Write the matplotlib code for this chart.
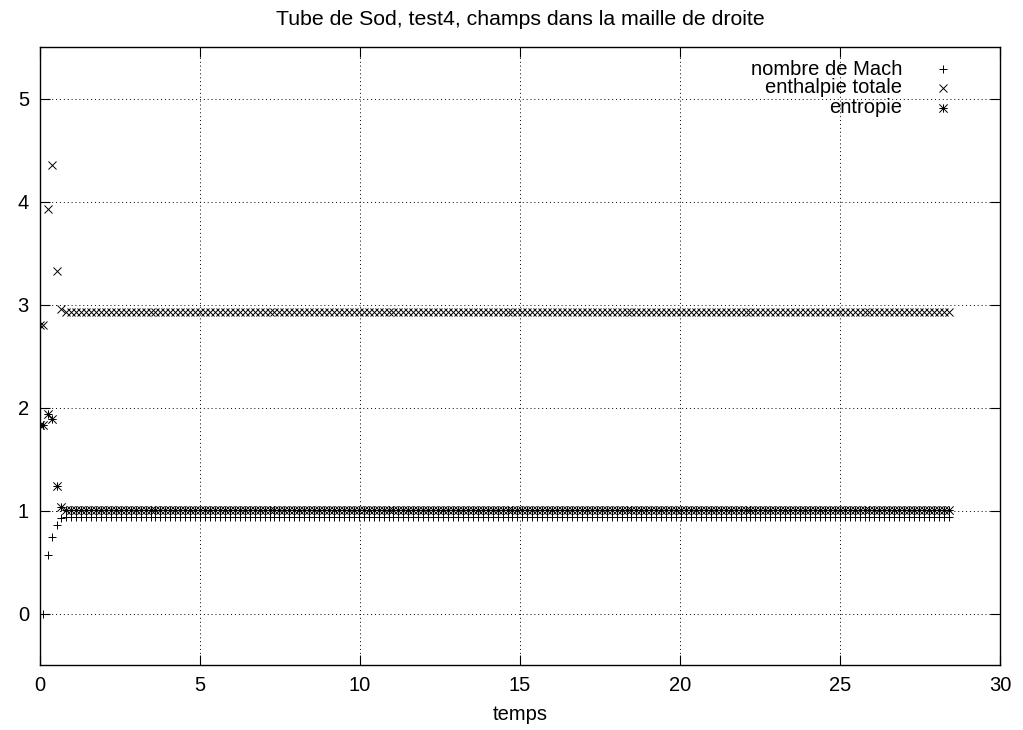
import numpy as np
import matplotlib
matplotlib.use("Agg")
import matplotlib.pyplot as plt
from matplotlib.path import Path

plt.rcParams['font.family'] = ['Liberation Sans', 'DejaVu Sans']

# premiers pas de temps (transitoire)
t_debut = [0.0, 0.1, 0.24, 0.38, 0.52, 0.67]
mach_debut = [0.0, 0.0, 0.57, 0.74, 0.86, 0.93]
enthalpie_debut = [2.8, 2.8, 3.93, 4.35, 3.33, 2.96]
entropie_debut = [1.83, 1.83, 1.94, 1.89, 1.235, 1.03]

# regime etabli
t_plateau_debut = 0.82
t_fin = 28.4
n_plateau = 179
mach_plateau = 0.94
enthalpie_plateau = 2.925
entropie_plateau = 1.005

t = np.concatenate([t_debut, np.linspace(t_plateau_debut, t_fin, n_plateau)])
mach = np.concatenate([mach_debut, np.full(n_plateau, mach_plateau)])
enthalpie = np.concatenate([enthalpie_debut, np.full(n_plateau, enthalpie_plateau)])
entropie = np.concatenate([entropie_debut, np.full(n_plateau, entropie_plateau)])

labels = ['nombre de Mach', 'enthalpie totale', 'entropie']

# asterisque facon gnuplot (+ et x superposes)
star = Path([(0, -1), (0, 1), (-1, 0), (1, 0), (-1, -1), (1, 1), (-1, 1), (1, -1)],
            [Path.MOVETO, Path.LINETO] * 4)
markers = ['+', 'x', star]
series = [mach, enthalpie, entropie]

fig = plt.figure(figsize=(10.23, 7.3), dpi=100)
ax = fig.add_axes([40/1023, 65/730, 960/1023, 618/730])

for y, m in zip(series, markers):
    ax.plot(t, y, linestyle='none', marker=m, color='black', ms=6, mew=0.7)

# legende a la gnuplot
rows = [0.9644, 0.9337, 0.9013]
for lab, m, yy in zip(labels, markers, rows):
    ax.text(0.898, yy, lab, transform=ax.transAxes, ha='right', va='center', fontsize=14.5)
    ax.plot([0.9406], [yy], transform=ax.transAxes, linestyle='none', marker=m,
            color='black', ms=6, mew=0.7)

ax.set_xlim(0, 30)
ax.set_ylim(-0.5, 5.5)
ax.set_xticks(np.arange(0, 31, 5))
ax.set_yticks(np.arange(0, 6, 1))
ax.tick_params(direction='in', length=7, top=True, right=True, labelsize=14.5, pad=8)
ax.grid(True, color='black', linestyle=(0, (1, 3)), linewidth=0.7)
for s in ax.spines.values():
    s.set_linewidth(1)

ax.set_xlabel('temps', fontsize=14.5, labelpad=7)
ax.set_title('Tube de Sod, test4, champs dans la maille de droite', fontsize=15.3, pad=16)

fig.savefig('out.png', dpi=100)
